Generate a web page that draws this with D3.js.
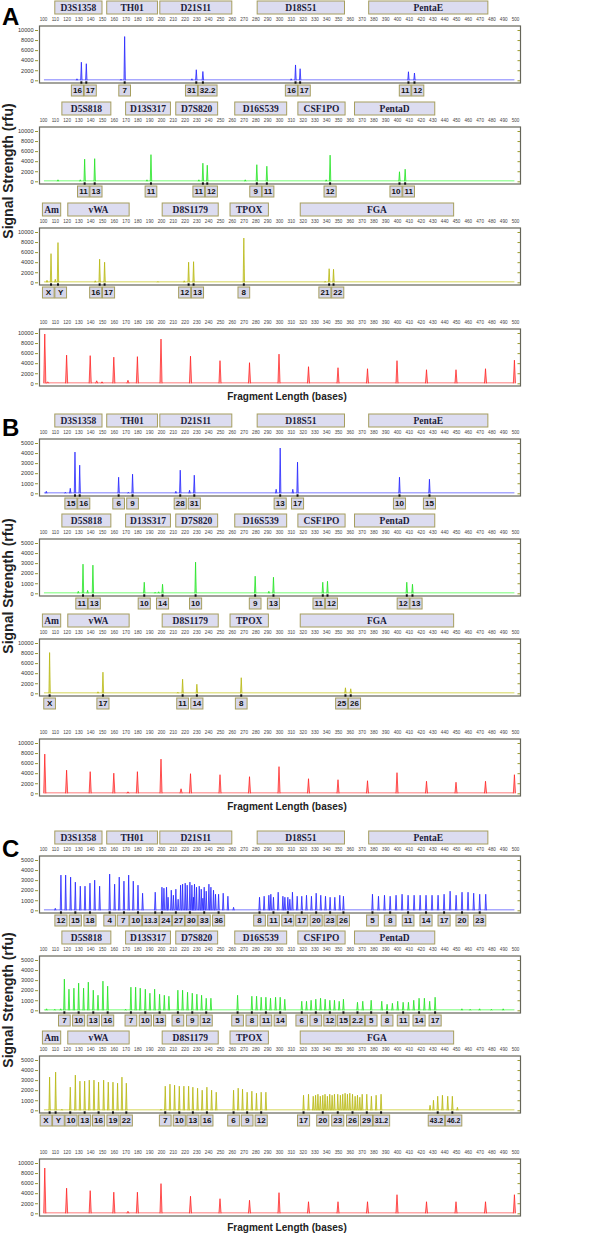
<!DOCTYPE html>
<html><head><meta charset="utf-8">
<script src="https://cdn.jsdelivr.net/npm/d3@7"></script>
<style>body{margin:0;background:#fff}</style>
</head><body><svg id="c" width="600" height="1237"></svg>
<script>
// ---------------- DATA ----------------
const xTicks = [100,110,120,130,140,150,160,170,180,190,200,210,220,230,240,250,260,270,280,290,300,310,320,330,340,350,360,370,380,390,400,410,420,430,440,450,460,470,480,490,500];
const yTicks10k = [0,2000,4000,6000,8000,10000];
const yTicks5k = [0,1000,2000,3000,4000,5000];

const lociRow1 = [["D3S1358",110,150],["TH01",154,197],["D21S11",199,260],["D18S51",281.5,355.5],["PentaE",376,477]];
const lociRow2 = [["D5S818",116,157.5],["D13S317",170,208],["D7S820",212.5,248],["D16S539",262.5,306.5],["CSF1PO",316,356],["PentaD",364,432]];
const lociRow3 = [["Am",99.5,115],["vWA",121,173],["D8S1179",201,248.5],["TPOX",258.5,291],["FGA",318,448]];

// Panel A
const peaksA1 = [[128.8,300],[132.5,3600],[136.7,3300],[166.1,200],[169.2,8700],[226.2,300],[229.9,2100],[235.5,1750],[310.3,300],[314.0,3050],[317.9,2300],[409.7,1700],[414.8,1450]];
const allelesA1 = [[132.5,"16"],[136.7,"17"],[169.2,"7"],[229.9,"31"],[235.5,"32.2"],[314.0,"16"],[317.9,"17"],[409.7,"11"],[414.8,"12"]];
const peaksA2 = [[112.7,300],[131.6,300],[135.3,4400],[143.8,4500],[188.1,300],[191.5,5300],[232.1,300],[235.5,3600],[239.2,3200],[271.4,300],[281.2,3300],[289.7,3000],[340.0,300],[343.3,5200],[402.1,1900],[406.9,2400]];
const allelesA2 = [[135.3,"11"],[143.8,"13"],[191.5,"11"],[235.5,"11"],[239.2,"12"],[281.2,"9"],[289.7,"11"],[343.3,"12"],[402.1,"10"],[406.9,"11"]];
const peaksA3 = [[103.4,400],[106.8,5700],[110.4,600],[112.7,7900],[144.3,300],[148.0,4600],[152.2,4000],[197.4,150],[219.7,300],[223.4,4000],[227.6,4100],[270.2,8800],[339.1,200],[342.5,2700],[346.2,2600]];
const allelesA3 = [[106.8,"X"],[112.7,"Y"],[148.0,"16"],[152.2,"17"],[223.4,"12"],[227.6,"13"],[270.2,"8"],[342.5,"21"],[346.2,"22"]];
const peaksA4 = [[101.5,9800],[104,300],[120,5600],[140,5500],[145.5,500],[150,300],[160,5200],[172,600],[180,5300],[200,8800],[225,5400],[250,4500],[275,4100],[300,5800],[325,3300],[350,3100],[375,2900],[400,4500],[425,2700],[450,2700],[475,2900],[499.5,4600]];

// Panel B
const peaksB1 = [[102.8,200],[118.9,100],[123.1,500],[127.1,4100],[131.1,2800],[164.1,1600],[172.3,100],[175.9,1900],[212.6,200],[216.3,2300],[224.2,300],[228.2,1800],[297.6,400],[301.0,4500],[311.7,400],[315.7,3100],[402.1,1600],[427.5,1400]];
const allelesB1 = [[127.1,"15"],[131.1,"16"],[164.1,"6"],[175.9,"9"],[216.3,"28"],[228.2,"31"],[301.0,"13"],[315.7,"17"],[402.1,"10"],[427.5,"15"]];
const peaksB2 = [[129.9,200],[133.9,2900],[137.8,300],[142.3,2800],[185.8,1100],[195,100],[198,150],[201.3,900],[229.3,3100],[279.8,1700],[291.4,200],[295.3,1600],[337.1,1100],[341.1,1200],[408.3,1100],[413.1,900]];
const allelesB2 = [[133.9,"11"],[142.3,"13"],[185.8,"10"],[201.3,"14"],[229.3,"10"],[279.8,"9"],[295.3,"13"],[337.1,"11"],[341.1,"12"],[408.3,"12"],[413.1,"13"]];
const peaksB3 = [[105.6,8100],[146.6,300],[150.8,4200],[214.3,200],[218.3,2800],[230.4,1800],[268.0,3100],[356.3,1100],[360.8,900]];
const allelesB3 = [[105.6,"X"],[150.8,"17"],[218.3,"11"],[230.4,"14"],[268.0,"8"],[356.3,"25"],[360.8,"26"]];
const peaksB4 = [[101.5,7800],[120,4600],[140,4300],[160,4000],[172,300],[180,4300],[200,6800],[217,900],[225,3900],[250,3700],[275,3300],[300,5300],[325,2900],[350,2700],[375,2500],[400,4100],[425,2400],[450,2200],[475,2400],[499.5,3700]];

// Panel C
const peaksC1 = [
 [110.4,200],[115.2,3500],[119.2,3500],[123.4,3300],[127.4,2800],[131.6,2400],[135.6,2400],[139.8,2700],[143.8,3000],[148.0,2400],
 [156.5,3600],[160.7,2600],[164.6,3300],[168.6,2900],[172.6,3500],[176.5,2900],[180.5,2500],[184.4,1700],[195.1,1800],
 [200.8,2300],[202.5,2200],[204.7,2300],[206.0,1300],[208.7,2000],[210.5,1500],[212.6,2100],[214.5,1100],[216.6,2500],[218.3,2600],[220.5,2700],[222.2,2500],[224.5,2800],[226.2,2500],[227.5,1300],[228.4,2600],[230.1,2300],[232.4,2400],[234.1,2100],[235.5,1200],[236.6,2300],[238.3,1900],[240.6,2600],[242.3,2300],[244.5,2000],[246.2,1600],[248.8,1600],[252.7,1700],[256.7,1400],[261.5,300],
 [283.5,1300],[287.4,1400],[291.4,1500],[293.1,1600],[295.3,1300],[299.3,1800],[303.3,1400],[305.0,1300],[307.5,1300],[309.2,1100],[311.4,1800],[315.4,1400],[319.3,1400],[323.3,1500],[327.5,1400],[331.5,1700],[335.4,1500],[339.4,1400],[343.3,1300],[347.3,1300],[351.5,1500],[354.6,1400],
 [379.2,1600],[384.3,1400],[389.4,1500],[394.2,1400],[399.2,1500],[404.3,1600],[409.4,1500],[414.5,1500],[419.6,1500],[424.6,1500],[429.7,1500],[434.8,1500],[439.9,1600],[445.0,1900],[450.1,1500],[455.1,1800],[460.2,1800],[465.0,1700],[470.1,1600],[475.2,1600]
];
const allelesC1 = [[115.2,"12"],[127.4,"15"],[139.8,"18"],[156.5,"4"],[168.6,"7"],[180.5,"10"],[195.1,"13.3"],[200.8,"24"],[212.6,"27"],[224.5,"30"],[236.6,"33"],[248.8,"36"],[283.5,"8"],[295.3,"11"],[307.5,"14"],[319.3,"17"],[331.5,"20"],[343.3,"23"],[354.6,"26"],[379.2,"5"],[394.2,"8"],[409.4,"11"],[424.6,"14"],[439.9,"17"],[455.1,"20"],[470.1,"23"]];
const peaksC2 = [
 [103,150],[110,100],[115,150],
 [118.1,3100],[122.0,2100],[126.2,2200],[130.2,2700],[134.4,2200],[138.4,2800],[142.6,2000],[146.6,1500],[150.8,2900],[154.8,2400],
 [170,100],[174.5,2300],[178.5,2300],[182.4,2200],[186.7,2100],[190.6,1700],[194.6,2100],[198.8,1600],[202.8,1500],[206.7,1400],
 [214.3,2000],[218.3,2000],[222.5,1800],[226.5,1700],[230.4,1600],[234.4,1500],[238.3,1200],[242.3,1200],
 [264.9,1500],[277.0,1400],[281.0,1400],[284.9,1300],[288.9,1300],[292.8,1200],[297.1,1300],[301.0,1300],[304.9,1100],
 [319.3,900],[323.3,900],[327.2,1000],[331.2,1100],[335.2,1200],[339.1,1100],[343.1,1000],[347.0,1000],[351.0,900],[354.6,1100],
 [366.5,800],[371.0,900],[378.1,1000],[387.1,900],[391.6,600],[396.1,700],[400.6,900],[405.2,800],[409.7,800],[414.2,1000],[418.7,1200],[423.2,1200],[427.7,900],[432.3,1300],
 [455,150],[462,100],[470,150],[480,100],[490,150]
];
const allelesC2 = [[118.1,"7"],[130.2,"10"],[142.6,"13"],[154.8,"16"],[174.5,"7"],[186.7,"10"],[198.8,"13"],[214.3,"6"],[226.5,"9"],[238.3,"12"],[264.9,"5"],[277.0,"8"],[288.9,"11"],[301.0,"14"],[319.3,"6"],[331.2,"9"],[343.1,"12"],[354.6,"15"],[366.5,"2.2"],[378.1,"5"],[391.6,"8"],[405.2,"11"],[418.7,"14"],[432.3,"17"]];
const peaksC3 = [
 [105.6,3300],[110.7,3800],[116,100],
 [123.1,2300],[127.4,3500],[131.3,2900],[135.3,2900],[139.2,3000],[143.2,3000],[147.1,2800],[151.4,3000],[155.3,2800],[159.3,2800],[163.2,2700],[166.9,3300],[170.6,2700],
 [200,100],[203.6,2400],[207.6,2600],[211.5,2500],[215.5,2400],[219.4,2400],[223.4,2400],[227.0,2300],[231.0,2200],[234.9,2000],[238.9,2300],[242.9,2000],[246.8,1800],
 [261.5,2000],[265.4,2200],[269.1,2100],[273.0,1800],[277.0,1900],[280.9,1700],[284.9,1800],[288.9,1800],
 [320.8,1500],[325.0,1600],[329.0,1400],[331.0,1500],[333.0,1600],[335.0,1400],[337.1,1500],[339.0,1600],[341.0,1400],[343.0,1600],[345.0,1500],[347.0,1600],[349.8,1600],[352.0,1500],[354.0,1600],[356.0,1700],[358.0,1600],[360.0,1700],[362.3,1600],[364.5,1400],[366.5,1500],[368.5,1300],[370.5,1600],[374.4,1600],[378.3,1400],[382.3,1500],[386.5,1600],
 [428.0,500],[430.9,1000],[434.5,1400],[438.5,1500],[443.0,1400],[446.9,1400],[451.2,300]
];
const allelesC3 = [[105.6,"X"],[110.7,"Y"],[123.1,"10"],[135.3,"13"],[147.1,"16"],[159.3,"19"],[170.6,"22"],[203.6,"7"],[215.5,"10"],[227.0,"13"],[238.9,"16"],[261.5,"6"],[273.0,"9"],[284.9,"12"],[320.8,"17"],[337.1,"20"],[349.8,"23"],[362.3,"26"],[374.4,"29"],[386.5,"31.2"],[434.5,"43.2"],[446.9,"46.2"]];
const peaksC4 = [[101.5,9000],[120,5000],[140,4500],[160,4200],[172,400],[180,4200],[200,5900],[225,3400],[250,2900],[275,2600],[300,4100],[325,2300],[350,2300],[375,2300],[400,3700],[425,2300],[450,2300],[475,2300],[499.5,3700]];

// ---------------- DRAW ----------------
const svg = d3.select("#c");
const x = d3.scaleLinear().domain([100,500]).range([43,515]);
const colors = {
  blue:{dark:"#1616ff", light:"#a8a8ff"},
  green:{dark:"#12e012", light:"#a4ffa4"},
  yellow:{dark:"#b2b200", light:"#e4e490"},
  red:{dark:"#ff1616", light:"#ffa8a8"}
};
const SANS = "'Liberation Sans', Arial, Helvetica, sans-serif";
const SERIF = "'Liberation Serif', 'Times New Roman', serif";

const panels = [
  {letter:"A", letterY:25, ylabY:171, fragY:396, T:[19,120,221,322], rows:[
    {peaks:peaksA1, alleles:allelesA1, loci:lociRow1, ymax:10000, yt:yTicks10k, c:"blue"},
    {peaks:peaksA2, alleles:allelesA2, loci:lociRow2, ymax:10000, yt:yTicks10k, c:"green"},
    {peaks:peaksA3, alleles:allelesA3, loci:lociRow3, ymax:10000, yt:yTicks10k, c:"yellow"},
    {peaks:peaksA4, ymax:10000, yt:yTicks10k, c:"red", ladder:true}]},
  {letter:"B", letterY:436, ylabY:586, fragY:806, T:[432,532,632,732], rows:[
    {peaks:peaksB1, alleles:allelesB1, loci:lociRow1, ymax:5000, yt:yTicks5k, c:"blue"},
    {peaks:peaksB2, alleles:allelesB2, loci:lociRow2, ymax:5000, yt:yTicks5k, c:"green"},
    {peaks:peaksB3, alleles:allelesB3, loci:lociRow3, ymax:10000, yt:yTicks10k, c:"yellow"},
    {peaks:peaksB4, ymax:10000, yt:yTicks10k, c:"red", ladder:true}]},
  {letter:"C", letterY:857, ylabY:1000, fragY:1227, T:[849,949,1049,1152], small:true, rows:[
    {peaks:peaksC1, alleles:allelesC1, loci:lociRow1, ymax:5000, yt:yTicks5k, c:"blue"},
    {peaks:peaksC2, alleles:allelesC2, loci:lociRow2, ymax:5000, yt:yTicks5k, c:"green"},
    {peaks:peaksC3, alleles:allelesC3, loci:lociRow3, ymax:5000, yt:yTicks5k, c:"yellow"},
    {peaks:peaksC4, ymax:10000, yt:yTicks10k, c:"red", ladder:true}]}
];

function drawRow(T, row, small) {
  const g = svg.append("g");
  const y = d3.scaleLinear().domain([0,row.ymax]).range([T+61.3, T+11]);
  const col = colors[row.c];

  if (row.loci) {
    const lg = g.selectAll("g.locus").data(row.loci).join("g");
    lg.append("rect").attr("x", d=>x(d[1])).attr("y",T-18).attr("width",d=>x(d[2])-x(d[1])).attr("height",13)
      .attr("fill","#dcdcf0").attr("stroke","#a69e5e").attr("stroke-width",1);
    lg.append("text").attr("x", d=>(x(d[1])+x(d[2]))/2).attr("y",T-8.3).attr("text-anchor","middle")
      .attr("font-family",SERIF).attr("font-weight","bold").attr("font-size",9.5).attr("fill","#1c1c3a").text(d=>d[0]);
  }

  const ax = g.append("g").attr("transform",`translate(0,${T+1.8})`)
    .call(d3.axisTop(x).tickValues(xTicks).tickSize(0).tickPadding(0));
  ax.select(".domain").remove();
  ax.selectAll("text").attr("font-size",4.6).attr("fill","#444").attr("font-family",SANS);

  g.append("rect").attr("x",39.5).attr("y",T+7).attr("width",481).attr("height",57)
    .attr("fill","none").attr("stroke","#66665a").attr("stroke-width",1.2);

  const ay = g.append("g").attr("transform","translate(38,0)")
    .call(d3.axisLeft(y).tickValues(row.yt).tickSize(3).tickPadding(1.5).tickFormat(d3.format("d")));
  ay.select(".domain").remove();
  ay.selectAll("line").attr("stroke","#9a9a2a");
  ay.selectAll("text").attr("font-size",5.6).attr("fill","#333").attr("font-family",SANS);

  const ay2 = g.append("g").attr("transform","translate(520,0)")
    .call(d3.axisLeft(y).tickValues(row.yt).tickSize(2.5).tickFormat(""));
  ay2.select(".domain").remove();
  ay2.selectAll("line").attr("stroke","#9a9a2a");

  // baseline
  g.append("line").attr("x1",x(100.8)).attr("x2",x(499.5)).attr("y1",y(0)-0.5).attr("y2",y(0)-0.5)
    .attr("stroke",col.light).attr("stroke-width",1.5);

  const w = row.ladder ? 0.9 : 0.6;
  const line = d3.line().x(d=>x(d[0])).y(d=>y(d[1]));
  g.selectAll("path.pk").data(row.peaks).join("path").attr("class","pk")
    .attr("d", d=>line([[d[0]-w,0],[d[0],d[1]],[d[0]+w,0]]))
    .attr("fill",col.light).attr("stroke",col.dark).attr("stroke-width",0.7).attr("stroke-linejoin","round");

  if (row.alleles) {
    const items = row.alleles.map(d=>({b:d[0], t:d[1], cx:x(d[0])}));
    const tmp = g.append("text").attr("font-family",SANS).attr("font-weight","bold");
    items.forEach(it=>{
      it.fs = (small && it.t.length>=4) ? 6.8 : 8;
      tmp.attr("font-size",it.fs).text(it.t);
      it.w = Math.max(11.7, tmp.node().getComputedTextLength()+3.2);
      it.x = it.cx;
    });
    tmp.remove();
    for (let k=0;k<200;k++) {
      for (let i=1;i<items.length;i++) {
        const a=items[i-1], b=items[i];
        const ov=(a.x+a.w/2+0.7)-(b.x-b.w/2);
        if (ov>0) { a.x-=ov/2; b.x+=ov/2; }
      }
    }
    g.selectAll("rect.mk").data(items).join("rect").attr("class","mk")
      .attr("x",d=>d.cx-1).attr("y",T+62.3).attr("width",2).attr("height",2.4).attr("fill","#111");
    const ag = g.selectAll("g.al").data(items).join("g").attr("class","al");
    ag.append("rect").attr("x",d=>d.x-d.w/2).attr("y",T+66).attr("width",d=>d.w).attr("height",11)
      .attr("fill","#d6d6ea").attr("stroke","#a69e5e").attr("stroke-width",1);
    ag.append("text").attr("x",d=>d.x).attr("y",d=>T+71.5+d.fs*0.36).attr("text-anchor","middle")
      .attr("font-family",SANS).attr("font-weight","bold").attr("font-size",d=>d.fs).attr("fill","#111").text(d=>d.t);
  }
}

panels.forEach(p=>{
  svg.append("text").attr("x",2).attr("y",p.letterY).attr("font-family",SANS).attr("font-weight","bold")
    .attr("font-size",24).attr("fill","#000").text(p.letter);
  svg.append("text").attr("transform",`translate(13,${p.ylabY}) rotate(-90)`).attr("text-anchor","middle")
    .attr("font-family",SANS).attr("font-weight","bold").attr("font-size",14).attr("fill","#222").text("Signal Strength (rfu)");
  p.rows.forEach((r,i)=>drawRow(p.T[i], r, p.small));
  svg.append("text").attr("x",287).attr("y",p.fragY+3.5).attr("text-anchor","middle")
    .attr("font-family",SANS).attr("font-weight","bold").attr("font-size",10).attr("fill","#222").text("Fragment Length (bases)");
});
</script></body></html>
